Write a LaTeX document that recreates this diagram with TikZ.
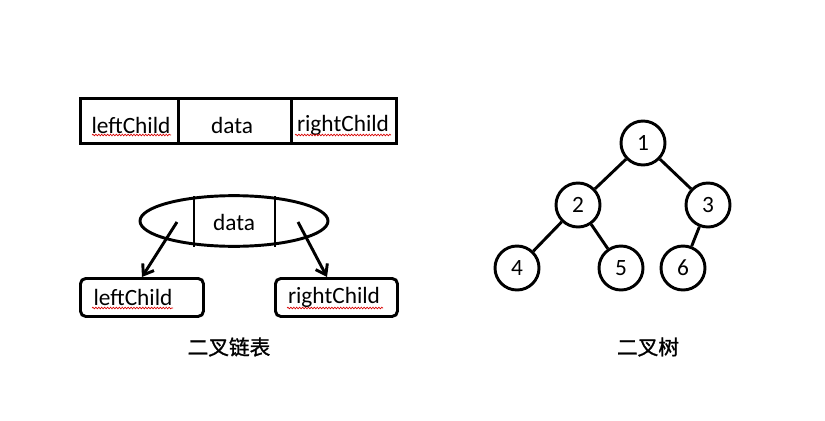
\documentclass[tikz,border=0pt]{standalone}
\usepackage{fontspec}
\setmainfont{Carlito}
\newfontfamily\cjk[FakeBold=1.2]{Noto Sans CJK SC}
\usetikzlibrary{arrows.meta,decorations.pathmorphing}
\begin{document}
\begin{tikzpicture}[x=0.75pt,y=-0.75pt,
  lw/.style={line width=2.2pt},
  lbl/.style={font=\fontsize{17.5}{20}\selectfont, inner sep=0pt},
  captxt/.style={font=\cjk\fontsize{15.5}{18}\selectfont, inner sep=0pt},
  tnode/.style={circle, draw, line width=2.2pt, minimum size=33pt, inner sep=0pt, font=\fontsize{17.5}{20}\selectfont},
  rbox/.style={draw, line width=2.2pt, rounded corners=4pt, inner sep=0pt},
  spell/.style={red!85!black, line width=0.5pt, decorate, decoration={snake, amplitude=0.6pt, segment length=2.2pt}},
  tedge/.style={line width=2.2pt},
  arr/.style={line width=2.2pt, -{Straight Barb[length=7pt, width=10pt, line width=2.2pt]}}]
\useasboundingbox (0,0) rectangle (825,421);

% top record
\node[draw, lw, inner sep=0pt, anchor=north west, minimum height=33.75pt, minimum width=73.5pt] (r1) at (79,97) {};
\node[draw, lw, inner sep=0pt, anchor=north west, minimum height=33.75pt, minimum width=84.75pt] (r2) at (177,97) {};
\node[draw, lw, inner sep=0pt, anchor=north west, minimum height=33.75pt, minimum width=78.75pt] (r3) at (290,97) {};
\node[lbl] (t1) at (131,125) {leftChild};
\node[lbl] (t2) at (232,125) {data};
\node[lbl] (t3) at (343,125) {rightChild};
\draw[spell] (92,135) -- (171,135);
\draw[spell] (295,135) -- (391,135);

% ellipse node
\coordinate (ec) at (234,221);
\draw[lw] (ec) ellipse [x radius=70.5pt, y radius=19pt];
\coordinate (v1t) at (194,196); \coordinate (v1b) at (194,247);
\coordinate (v2t) at (275,196); \coordinate (v2b) at (275,247);
\draw[lw] (v1t) -- (v1b);
\draw[lw] (v2t) -- (v2b);
\node[lbl] (ed) at (234,222) {data};

% children boxes
\node[rbox, anchor=north west, minimum width=92.25pt, minimum height=28.5pt] (lc) at (79,277) {};
\node[lbl] (lct) at (133,297) {leftChild};
\node[rbox, anchor=north west, minimum width=91.5pt, minimum height=28.5pt] (rc) at (274,277) {};
\node[lbl] (rct) at (334,297) {rightChild};
\draw[spell] (92,308) -- (173,308);
\draw[spell] (287,308) -- (383,308);

\coordinate (a1s) at (177,222); \coordinate (a1e) at (142,277);
\coordinate (a2s) at (298,222); \coordinate (a2e) at (327,277);
\draw[arr] (a1s) -- (a1e);
\draw[arr] (a2s) -- (a2e);

\node[captxt] (c1) at (229,347) {二叉链表};

% tree
\node[tnode] (n1) at (643,143) {1};
\node[tnode] (n2) at (578,205) {2};
\node[tnode] (n3) at (708,205) {3};
\node[tnode] (n4) at (517,268) {4};
\node[tnode] (n5) at (621,268) {5};
\node[tnode] (n6) at (683,268) {6};
\draw[tedge] (n1) -- (n2);
\draw[tedge] (n1) -- (n3);
\draw[tedge] (n2) -- (n4);
\draw[tedge] (n2) -- (n5);
\draw[tedge] (n3) -- (n6);

\node[captxt] (c2) at (648,347) {二叉树};
\end{tikzpicture}
\end{document}
